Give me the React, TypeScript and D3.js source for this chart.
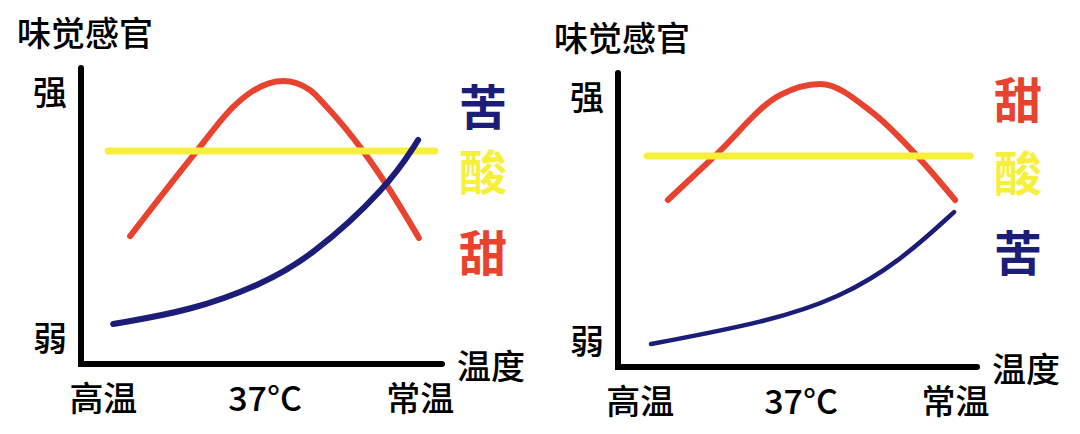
import React from "react";
import * as d3 from "d3";

// shared labels
const titleText = "味觉感官";
const xTickLabels = ["高温", "37°C", "常温"];
const xTickValues = [0.62, 5.1, 9.4];
const yTickLabels = ["强", "弱"];
const yTickValues = [9.25, 0.92];
const xAxisName = "温度";

// left panel (x: 0 = hot .. 10 = room temp, y: 0 = weak .. 10 = strong)
const leftSweetX = [1.36, 3.21, 4.21, 4.68, 5.6, 6.34, 6.81, 7.81, 8.5, 9.36];
const leftSweetY = [4.32, 7.2, 8.68, 9.16, 9.56, 9.26, 8.68, 7.2, 5.98, 4.26];
const leftSourX = [0.75, 9.8];
const leftSourY = [7.2, 7.2];
const leftBitterX = [0.89, 3.1, 4.96, 6.34, 8.5, 9.34];
const leftBitterY = [1.35, 1.82, 2.67, 3.58, 5.98, 7.57];
const leftLegend = ["苦", "酸", "甜"];
const leftLegendY = [8.8, 6.6, 3.85];

// right panel
const rightSweetX = [1.39, 2.7, 4.51, 5.63, 7.1, 8.33, 9.39];
const rightSweetY = [5.68, 7.18, 9.25, 9.63, 8.64, 7.18, 5.68];
const rightSourX = [0.81, 9.81];
const rightSourY = [7.18, 7.18];
const rightBitterX = [0.92, 4.15, 6.18, 7.86, 9.36];
const rightBitterY = [0.78, 1.53, 2.35, 3.6, 5.27];
const rightLegend = ["甜", "酸", "苦"];
const rightLegendY = [9.2, 6.7, 3.98];

const RED = "#e8432f";
const YELLOW = "#f6ef3c";
const BLUE = "#1b1d78";
const FONT = "'Noto Sans CJK SC', 'Noto Sans', sans-serif";

const zip = (xs: number[], ys: number[]) => xs.map((x, i) => [x, ys[i]] as [number, number]);

interface PanelProps {
  frame: { x0: number; x1: number; yTop: number; yBase: number };
  sweet: [number, number][];
  sour: [number, number][];
  bitter: [number, number][];
  bitterWidth: number;
  legend: string[];
  legendY: number[];
}

const legendColor: Record<string, string> = { 苦: BLUE, 酸: YELLOW, 甜: RED };

const Panel: React.FC<PanelProps> = ({ frame, sweet, sour, bitter, bitterWidth, legend, legendY }) => {
  const { x0, x1, yTop, yBase } = frame;
  const x = d3.scaleLinear().domain([0, 10]).range([x0, x1]);
  const y = d3.scaleLinear().domain([0, 10]).range([yBase, yTop]);
  const hump = d3
    .line<[number, number]>()
    .x((d) => x(d[0]))
    .y((d) => y(d[1]))
    .curve(d3.curveMonotoneX);
  // b-spline smooths the hand-drawn rising curve
  const rise = d3
    .line<[number, number]>()
    .x((d) => x(d[0]))
    .y((d) => y(d[1]))
    .curve(d3.curveBasis);

  return (
    <g>
      <text x={x0 - 64} y={yTop - 37} fontSize={34} fontWeight={500} dominantBaseline="central">
        {titleText}
      </text>
      {yTickLabels.map((t, i) => (
        <text key={t} x={x0 - 31} y={y(yTickValues[i])} fontSize={34} fontWeight={500}
          textAnchor="middle" dominantBaseline="central">
          {t}
        </text>
      ))}
      {xTickLabels.map((t, i) => (
        <text key={t} x={x(xTickValues[i])} y={yBase + 32} fontSize={34} fontWeight={500}
          textAnchor="middle" dominantBaseline="central">
          {t}
        </text>
      ))}
      <text x={x1 + 15} y={yBase} fontSize={34} fontWeight={500} dominantBaseline="central">
        {xAxisName}
      </text>

      <path d={hump(sweet) ?? ""} fill="none" stroke={RED} strokeWidth={6} strokeLinecap="round" />
      <path d={hump(sour) ?? ""} fill="none" stroke={YELLOW} strokeWidth={7} strokeLinecap="round" />
      <path d={rise(bitter) ?? ""} fill="none" stroke={BLUE} strokeWidth={bitterWidth} strokeLinecap="round" />

      <path
        d={`M${x0},${yTop}L${x0},${yBase}L${x1},${yBase}`}
        fill="none"
        stroke="#000"
        strokeWidth={6}
        strokeLinecap="round"
        strokeLinejoin="miter"
      />

      {legend.map((t, i) => (
        <text key={t} x={x1 + 41} y={y(legendY[i])} fontSize={48} fontWeight={700}
          fill={legendColor[t]} textAnchor="middle" dominantBaseline="central">
          {t}
        </text>
      ))}
    </g>
  );
};

export default function App() {
  return (
    <svg
      width={1080}
      height={434}
      style={{ position: "absolute", left: 0, top: 0, background: "#fff" }}
      fontFamily={FONT}
    >
      <rect width={1080} height={434} fill="#fff" />
      <Panel
        frame={{ x0: 81, x1: 442, yTop: 68, yBase: 364 }}
        sweet={zip(leftSweetX, leftSweetY)}
        sour={zip(leftSourX, leftSourY)}
        bitter={zip(leftBitterX, leftBitterY)}
        bitterWidth={6}
        legend={leftLegend}
        legendY={leftLegendY}
      />
      <Panel
        frame={{ x0: 618, x1: 977, yTop: 73, yBase: 367 }}
        sweet={zip(rightSweetX, rightSweetY)}
        sour={zip(rightSourX, rightSourY)}
        bitter={zip(rightBitterX, rightBitterY)}
        bitterWidth={4.5}
        legend={rightLegend}
        legendY={rightLegendY}
      />
    </svg>
  );
}
